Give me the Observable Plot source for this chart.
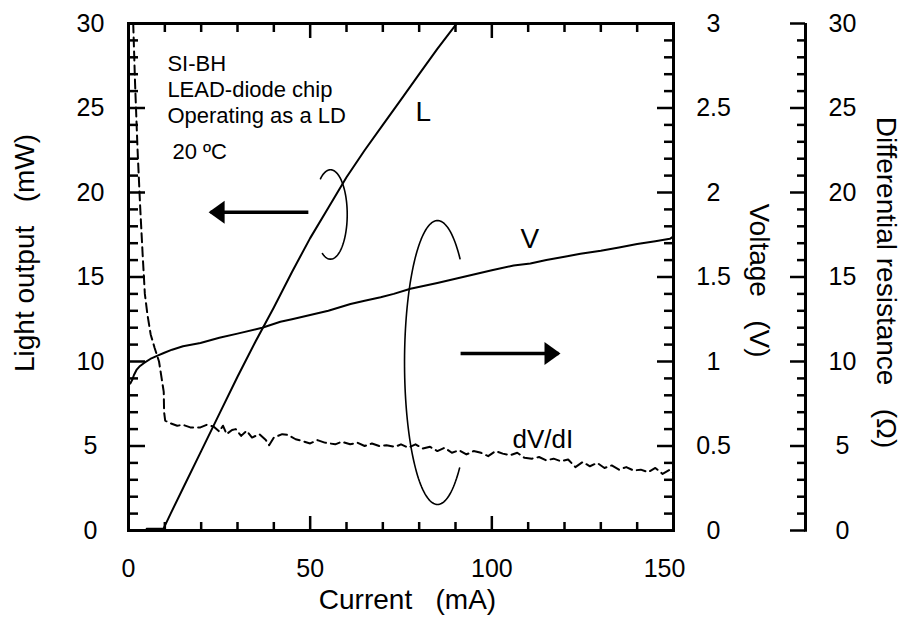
<!DOCTYPE html>
<html>
<head>
<meta charset="utf-8">
<script src="https://cdn.jsdelivr.net/npm/d3@7"></script>
<script src="https://cdn.jsdelivr.net/npm/@observablehq/plot@0.6"></script>
<style>
  html, body { margin: 0; padding: 0; background: #fff; }
  svg { display: block; }
</style>
</head>
<body>
<div id="chart"></div>
<script>
// ---------- data ----------
// Light output L (mW) vs current (mA)
const lightCurrent = [5, 9.6, 11.6, 15, 20, 25, 30, 35, 40, 45, 50, 55, 60, 65, 70, 75, 80, 85, 90, 90.3];
const lightPower   = [0.1, 0.1, 1.0, 2.5, 4.7, 6.9, 9.1, 11.2, 13.2, 15.3, 17.3, 19.1, 20.9, 22.5, 24.0, 25.5, 27.0, 28.5, 29.9, 30];

// Voltage V (V) vs current (mA)
const voltCurrent = [0.5, 1, 1.5, 2.2, 3, 4.2, 6, 8, 9.7, 12, 15, 19.8, 25, 30, 36.8, 41.8, 45, 50, 55, 61.1, 65, 69.4, 73, 77.6, 85, 90, 95, 100, 106, 110.6, 115, 120, 124.4, 130, 135, 140, 145, 149, 150];
const voltValue   = [0.87, 0.89, 0.92, 0.95, 0.97, 0.99, 1.015, 1.035, 1.05, 1.07, 1.09, 1.11, 1.14, 1.165, 1.20, 1.235, 1.25, 1.275, 1.30, 1.34, 1.36, 1.38, 1.40, 1.43, 1.465, 1.49, 1.515, 1.54, 1.568, 1.58, 1.60, 1.62, 1.637, 1.655, 1.675, 1.695, 1.712, 1.726, 1.74];

// Differential resistance dV/dI (ohm) vs current (mA)
const resCurrent = [1.3, 1.8, 2.5, 3.2, 3.9, 4.5, 5.2, 6.1, 7.2, 8.4, 9.2, 9.7, 9.8, 10.1, 11.5, 13.4, 15, 17, 19.8, 21.5, 23.4, 25, 26, 27, 28.5, 29.5, 31, 32.5, 34, 36, 37.8, 38.7, 40, 42.3, 44, 46, 47.7, 50, 52, 54, 56.9, 58.7, 61, 63, 65, 67, 69, 71, 73.4, 75, 77, 79, 81, 83, 85, 87, 89, 91, 93, 95, 97, 99, 101, 103, 105, 107, 109, 111, 113, 115, 117, 119, 121, 123, 125, 127, 129, 131, 133, 135, 137, 139, 141, 143, 145, 147, 149, 150];
const resValue   = [30, 26.5, 22.5, 19.2, 16.3, 14.0, 12.8, 11.6, 10.8, 10.0, 8.9, 8.2, 7.0, 6.5, 6.35, 6.2, 6.25, 6.1, 6.1, 6.25, 6.15, 5.85, 6.2, 5.7, 5.95, 6.0, 5.6, 5.9, 5.5, 5.7, 5.35, 5.05, 5.5, 5.7, 5.65, 5.4, 5.3, 5.15, 5.35, 5.2, 5.1, 5.25, 5.1, 5.2, 5.0, 5.15, 5.0, 5.05, 4.95, 5.1, 4.9, 5.1, 4.85, 4.95, 4.7, 4.9, 4.6, 4.75, 4.5, 4.7, 4.6, 4.4, 4.7, 4.55, 4.45, 4.6, 4.3, 4.25, 4.35, 4.15, 4.25, 4.1, 4.2, 3.75, 4.05, 3.8, 4.0, 3.7, 3.85, 3.6, 3.75, 3.55, 3.6, 3.45, 3.7, 3.35, 3.6, 3.4];

// Tick values
const xTicks = [0, 50, 100, 150];
const xMinorTicks = [10, 20, 30, 40, 60, 70, 80, 90, 110, 120, 130, 140];
const yTicks = [0, 5, 10, 15, 20, 25, 30];
const yMinorTicks = [1, 2, 3, 4, 6, 7, 8, 9, 11, 12, 13, 14, 16, 17, 18, 19, 21, 22, 23, 24, 26, 27, 28, 29];
const vTicks = [0, 0.5, 1, 1.5, 2, 2.5, 3];
const vMinorTicks = [0.1, 0.2, 0.3, 0.4, 0.6, 0.7, 0.8, 0.9, 1.1, 1.2, 1.3, 1.4, 1.6, 1.7, 1.8, 1.9, 2.1, 2.2, 2.3, 2.4, 2.6, 2.7, 2.8, 2.9];
const rTicks = [0, 5, 10, 15, 20, 25, 30];
const rMinorTicks = [1, 2, 3, 4, 6, 7, 8, 9, 11, 12, 13, 14, 16, 17, 18, 19, 21, 22, 23, 24, 26, 27, 28, 29];

// Annotation texts (data coordinates: current mA, light-output scale)
const noteText = ["SI-BH", "LEAD-diode chip", "Operating as a LD", "20 \u00BAC"];
const noteX = [10.7, 10.7, 10.7, 12.1];
const noteY = [27.2, 25.68, 24.14, 22.0];

const curveLabel = ["L", "V", "dV/dI"];
const curveLabelX = [79.0, 107.9, 105.7];
const curveLabelY = [24.26, 16.69, 4.91];

// Loops around curves (center, radii, arc start/end angle in degrees)
const loopCx = [55.6, 85.05];
const loopCy = [18.7, 9.94];
const loopRx = [4.6, 9.08];
const loopRy = [2.645, 8.4];
const loopStart = [-127, 48];
const loopEnd = [119, 313];

// Arrows
const arrowTail = [49.5, 91.4];
const arrowTip = [22.6, 118.35];
const arrowY = [18.83, 10.47];

// ---------- build ----------
const W = 903, H = 625, ML = 128, MR = 230, MT = 23, MB = 95;
const frameW = W - ML - MR, frameH = H - MT - MB;
const font = "'Liberation Sans', Arial, Helvetica, sans-serif";

const lightData = lightCurrent.map((I, i) => ({I, L: lightPower[i]}));
const voltData = voltCurrent.map((I, i) => ({I, V: voltValue[i]}));
const resData = resCurrent.map((I, i) => ({I, R: resValue[i]}));
const notes = noteText.map((t, i) => ({t, x: noteX[i], y: noteY[i]}));
const labels = curveLabel.map((t, i) => ({t, x: curveLabelX[i], y: curveLabelY[i]}));

const loops = loopCx.map((cx, i) => {
  const pts = [];
  const n = 120;
  for (let k = 0; k <= n; k++) {
    const t = (loopStart[i] + (loopEnd[i] - loopStart[i]) * k / n) * Math.PI / 180;
    pts.push({loop: i, x: cx + loopRx[i] * Math.cos(t), y: loopCy[i] - loopRy[i] * Math.sin(t)});
  }
  return pts;
}).flat();

const arrows = arrowTip.map((tip, i) => ({tail: arrowTail[i], tip, y: arrowY[i], left: tip < arrowTail[i]}));
const headRight = {draw(ctx) { ctx.moveTo(2, 0); ctx.lineTo(-14, -11.5); ctx.lineTo(-14, 11.5); ctx.closePath(); }};
const headLeft  = {draw(ctx) { ctx.moveTo(-2, 0); ctx.lineTo(14, -11.5); ctx.lineTo(14, 11.5); ctx.closePath(); }};

const tk = {stroke: "black", strokeWidth: 2.5};
const title = {textAnchor: "middle", lineAnchor: "middle", fontSize: 28, fill: "black"};
const tickLabel = {textAnchor: "middle", fontSize: 25, fill: "black"};

const chart = Plot.plot({
  width: W, height: H,
  marginLeft: ML, marginRight: MR, marginTop: MT, marginBottom: MB,
  x: {domain: [0, 150], axis: null},
  y: {domain: [0, 30], axis: null},
  style: {fontFamily: font, background: "white", color: "black", overflow: "visible"},
  marks: [
    // curves
    Plot.line(lightData, {x: "I", y: "L", stroke: "black", strokeWidth: 2}),
    Plot.line(voltData, {x: "I", y: d => d.V * 10, stroke: "black", strokeWidth: 2}),
    Plot.line(resData, {x: "I", y: "R", stroke: "black", strokeWidth: 2, strokeDasharray: "9,5"}),

    // loops and arrows
    Plot.line(loops, {x: "x", y: "y", z: "loop", stroke: "black", strokeWidth: 1.6, curve: "linear"}),
    Plot.link(arrows, {x1: "tail", x2: "tip", y1: "y", y2: "y", stroke: "black", strokeWidth: 3.5}),
    Plot.dot(arrows.filter(d => d.left), {x: "tip", y: "y", symbol: headLeft, fill: "black", stroke: "none"}),
    Plot.dot(arrows.filter(d => !d.left), {x: "tip", y: "y", symbol: headRight, fill: "black", stroke: "none"}),

    // annotation text
    Plot.text(notes, {x: "x", y: "y", text: "t", textAnchor: "start", lineAnchor: "bottom", fontSize: 22, fill: "black"}),
    Plot.text(labels, {x: "x", y: "y", text: "t", textAnchor: "start", lineAnchor: "bottom", fontSize: d => d.t === "dV/dI" ? 26 : 28, fill: "black"}),

    // bottom ticks (inward)
    Plot.tickX(xMinorTicks, {x: d => d, insetTop: frameH - 8, ...tk}),
    Plot.tickX(xTicks, {x: d => d, insetTop: frameH - 14, ...tk}),
    // top ticks (inward)
    Plot.tickX(xMinorTicks, {x: d => d, insetBottom: frameH - 9, ...tk}),
    Plot.tickX(xTicks, {x: d => d, insetBottom: frameH - 15, ...tk}),
    // left ticks (inward)
    Plot.tickY(yMinorTicks, {y: d => d, insetRight: frameW - 10, ...tk}),
    Plot.tickY(yTicks, {y: d => d, insetRight: frameW - 17, ...tk}),
    // right (voltage) ticks (inward)
    Plot.tickY(vMinorTicks, {y: d => d * 10, insetLeft: frameW - 9, ...tk}),
    Plot.tickY(vTicks, {y: d => d * 10, insetLeft: frameW - 16, ...tk}),
    // separate resistance axis
    Plot.ruleX([150], {x: d => d, y1: -0.1, y2: 30, dx: 132, stroke: "black", strokeWidth: 3}),
    Plot.tickY(rMinorTicks, {y: d => d, insetLeft: frameW + 132 - 8, insetRight: -132, ...tk}),
    Plot.tickY(rTicks, {y: d => d, insetLeft: frameW + 132 - 15, insetRight: -132, ...tk}),

    // tick labels
    Plot.text(xTicks.filter(d => d < 150), {x: d => d, y: 0, dy: 38, text: d => String(d), ...tickLabel}),
    Plot.text(xTicks.filter(d => d === 150), {x: d => d, y: 0, dy: 38, dx: -9, text: d => String(d), ...tickLabel}),
    Plot.text(yTicks, {x: 0, y: d => d, dx: -38, text: d => String(d), ...tickLabel}),
    Plot.text(vTicks, {x: 150, y: d => d * 10, dx: 40, text: d => String(d), ...tickLabel}),
    Plot.text(rTicks, {x: 150, y: d => d, dx: 169, text: d => String(d), ...tickLabel}),

    // axis titles
    Plot.text(["Current\u00A0\u00A0\u00A0(mA)"], {frameAnchor: "bottom", dx: 6.5, dy: 70, ...title}),
    Plot.text(["Light output\u00A0\u00A0\u00A0(mW)"], {frameAnchor: "left", dx: -103, dy: -24, rotate: -90, ...title}),
    Plot.text(["Voltage\u00A0\u00A0\u00A0(V)"], {frameAnchor: "right", dx: 85, dy: 3.5, rotate: 90, ...title}),
    Plot.text(["Differential resistance\u00A0\u00A0\u00A0(\u03A9)"], {frameAnchor: "right", dx: 212, dy: 5.5, rotate: 90, ...title}),

    Plot.frame({stroke: "black", strokeWidth: 3})
  ]
});
document.getElementById("chart").appendChild(chart);
</script>
</body>
</html>
